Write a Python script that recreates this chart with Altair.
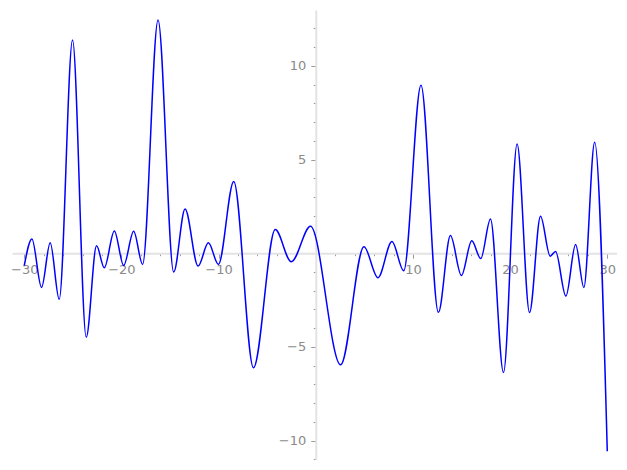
import altair as alt
import pandas as pd

# Local extrema of the curve
xs = [-30.0, -29.21, -28.22, -27.33, -26.40, -25.03, -23.62, -22.56, -21.76, -20.73,
      -19.77, -18.74, -17.82, -16.23, -14.62, -13.45, -12.11, -11.05, -10.02, -8.44,
      -6.41, -4.17, -2.52, -0.54, 2.56, 4.96, 6.40, 7.84, 9.05, 10.83,
      12.62, 13.86, 14.99, 16.05, 16.98, 17.98, 19.32, 20.72, 22.00, 23.13,
      24.12, 24.68, 25.74, 26.74, 27.59, 28.70, 30.0]
ys = [-0.67, 0.76, -1.83, 0.55, -2.46, 11.38, -4.49, 0.39, -0.78, 1.19,
      -0.66, 1.17, -0.60, 12.45, -1.01, 2.36, -0.69, 0.55, -0.60, 3.83,
      -6.12, 1.26, -0.46, 1.44, -5.96, 0.34, -1.31, 0.62, -0.94, 8.97,
      -3.16, 0.94, -1.19, 0.66, -0.29, 1.83, -6.37, 5.83, -3.17, 1.97,
      -0.16, 0.09, -2.29, 0.46, -1.83, 5.92, -10.57]

x_major = [-30, -20, -10, 10, 20, 30]
y_major = [-10, -5, 5, 10]
x_minor = [v for v in range(-30, 31, 2) if v % 10 != 0]
y_minor = [v for v in range(-11, 13) if v % 5 != 0]

df = pd.DataFrame({"x": xs, "y": ys})

W, H = 605, 450
XMIN, XMAX = -31.26, 31.0
YMIN, YMAX = -11.04, 12.98
x_off = -(H * (0 - YMIN) / (YMAX - YMIN))
y_off = -(W * (0 - XMIN) / (XMAX - XMIN))

x_scale = alt.Scale(domain=[XMIN, XMAX], nice=False, zero=False)
y_scale = alt.Scale(domain=[YMIN, YMAX], nice=False, zero=False)

LABEL = "#8a8a8a"
TICK = "#9a9a9a"
DOMAIN = "#e3e3e3"

common = dict(grid=False, title=None, labelFont="DejaVu Sans", labelFontSize=13,
              labelColor=LABEL, tickColor=TICK, tickWidth=1)

line = alt.Chart(df).mark_line(color="#0000ff", strokeWidth=1.5, interpolate="monotone").encode(
    x=alt.X("x:Q", scale=x_scale,
            axis=alt.Axis(values=x_major, orient="bottom", offset=x_off, tickSize=5,
                          labelPadding=5, domain=True, domainColor=DOMAIN, domainWidth=2,
                          labelFlush=False, labelOverlap=False, **common)),
    y=alt.Y("y:Q", scale=y_scale,
            axis=alt.Axis(values=y_major, orient="left", offset=y_off, tickSize=5,
                          labelPadding=5, domain=True, domainColor=DOMAIN, domainWidth=2,
                          labelFlush=False, labelOverlap=False, **common)),
)

minor = alt.Chart(df).mark_point(opacity=0).encode(
    x=alt.X("x:Q", scale=x_scale,
            axis=alt.Axis(values=x_minor, orient="bottom", offset=x_off, tickSize=2.5,
                          labels=False, domain=False, grid=False, title=None,
                          tickColor=TICK, tickWidth=1)),
    y=alt.Y("y:Q", scale=y_scale,
            axis=alt.Axis(values=y_minor, orient="left", offset=y_off, tickSize=2.5,
                          labels=False, domain=False, grid=False, title=None,
                          tickColor=TICK, tickWidth=1)),
)

chart = alt.layer(minor, line).resolve_axis(x="independent", y="independent").properties(
    width=W, height=H,
    padding={"left": 4, "top": 2, "right": 0, "bottom": 0},
    autosize=alt.AutoSizeParams(type="none"),
    background="white",
).configure_view(stroke=None)

chart.save("out.html", embed_options={"renderer": "svg", "actions": False})
